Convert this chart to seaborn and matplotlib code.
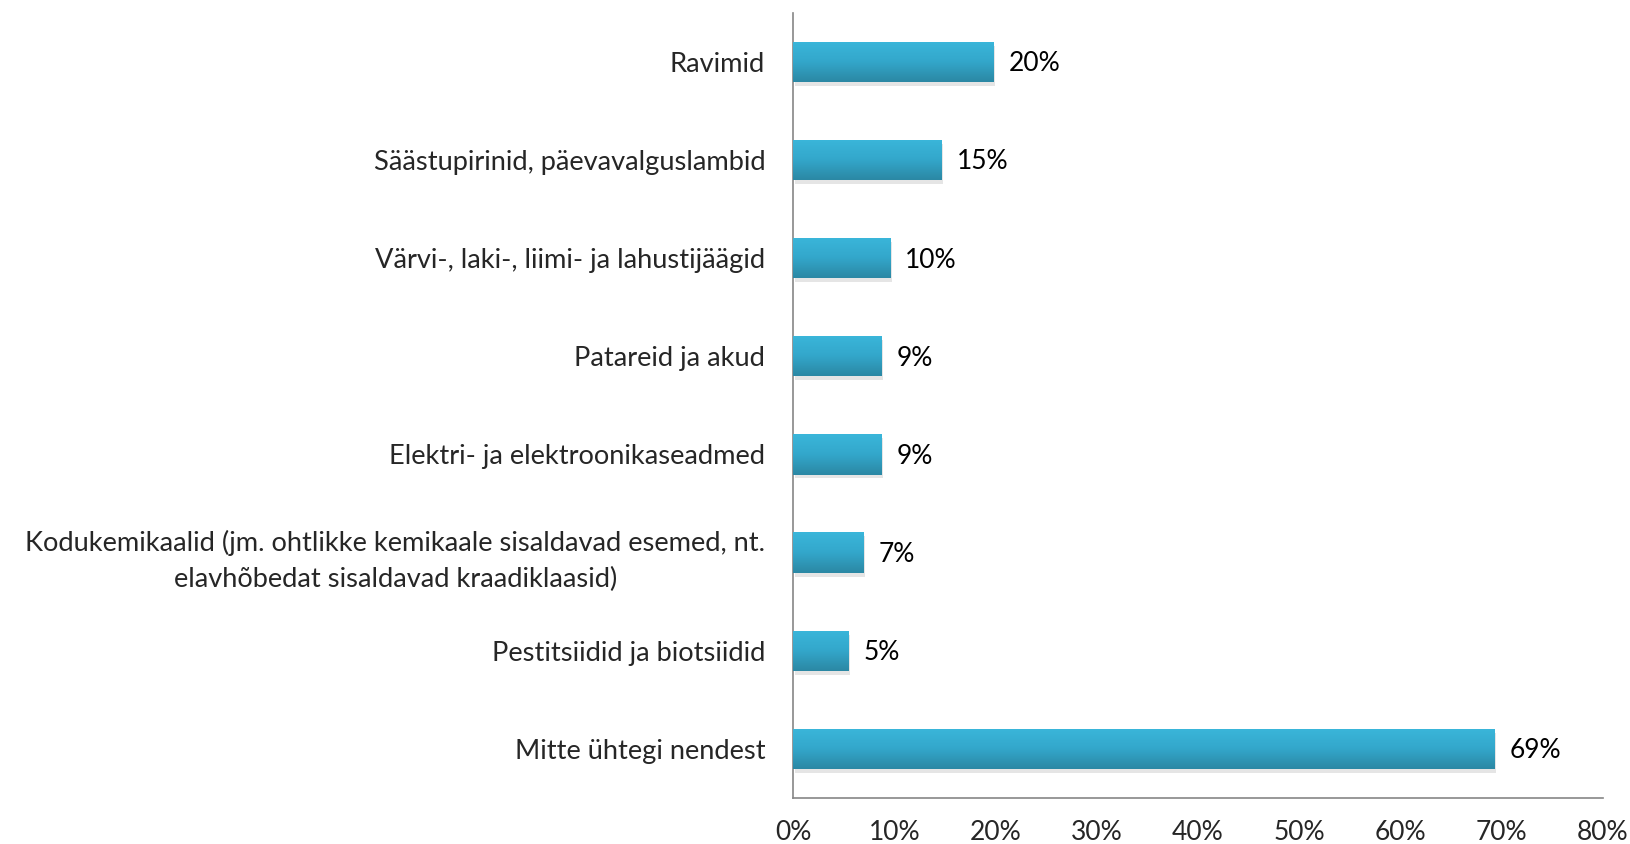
import numpy as np
import pandas as pd
import matplotlib
matplotlib.use("Agg")
import matplotlib.pyplot as plt
import seaborn as sns
from matplotlib.colors import LinearSegmentedColormap

categories = [
    "Ravimid",
    "Säästupirinid, päevavalguslambid",
    "Värvi-, laki-, liimi- ja lahustijäägid",
    "Patareid ja akud",
    "Elektri- ja elektroonikaseadmed",
    "Kodukemikaalid (jm. ohtlikke kemikaale sisaldavad esemed, nt.\nelavhõbedat sisaldavad kraadiklaasid)",
    "Pestitsiidid ja biotsiidid",
    "Mitte ühtegi nendest",
]
values = [19.8, 14.7, 9.6, 8.7, 8.7, 7.0, 5.5, 69.3]
value_labels = ["20%", "15%", "10%", "9%", "9%", "7%", "5%", "69%"]
xticks = [0, 10, 20, 30, 40, 50, 60, 70, 80]

df = pd.DataFrame({"cat": categories, "val": values})

sns.set_style("white")
plt.rcParams["font.family"] = ["Lato", "DejaVu Sans"]
fs = 19

fig = plt.figure(figsize=(16.31, 8.44), dpi=100)
ax = fig.add_axes([0.4862, 0.0545, 0.9828 - 0.4862, 0.985 - 0.0545])

sns.barplot(data=df, x="val", y="cat", color="#34afd4", width=0.41, ax=ax,
            saturation=1, edgecolor="none")

# gradient fill + soft shadow for each bar
cmap = LinearSegmentedColormap.from_list("g", ["#3ab6da", "#33a7cb", "#2b88a4"])
grad = np.linspace(0, 1, 64).reshape(-1, 1)
for p in ax.patches:
    x0, y0 = p.get_x(), p.get_y()
    w, h = p.get_width(), p.get_height()
    ax.add_patch(plt.Rectangle((x0 + 0.15, y0 + 0.04), w, h, color="#000000",
                               alpha=0.10, zorder=1, lw=0))
    p.set_zorder(2)
    im = ax.imshow(grad, cmap=cmap, aspect="auto", extent=(x0, x0 + w, y0 + h, y0),
                   zorder=3, interpolation="bilinear")
    im.set_clip_path(p)

for i, (v, lab) in enumerate(zip(values, value_labels)):
    ax.text(v + 1.5, i + 0.02, lab, va="center", ha="left", fontsize=fs, color="#000000")

ax.set_xlim(0, 80)
ax.set_ylim(len(categories) - 0.5, -0.5)
ax.set_xticks(xticks)
ax.set_xticklabels([f"{t}%" for t in xticks], fontsize=fs)
ax.set_yticks(range(len(categories)))
ax.set_yticklabels(categories, fontsize=19.6, multialignment="center", linespacing=1.55)
ax.set_yticks(np.arange(-0.5, len(categories), 1), minor=True)
ax.tick_params(axis="y", which="major", length=0, pad=20)
ax.tick_params(axis="y", which="minor", length=8, width=1.2, color="#868686", direction="out")
ax.tick_params(axis="x", which="major", length=8, width=1.2, color="#868686",
               direction="out", pad=8)
ax.set_xlabel("")
ax.set_ylabel("")

for s in ["top", "right"]:
    ax.spines[s].set_visible(False)
for s in ["left", "bottom"]:
    ax.spines[s].set_color("#868686")
    ax.spines[s].set_linewidth(1.2)

fig.savefig("out.png", dpi=100)
